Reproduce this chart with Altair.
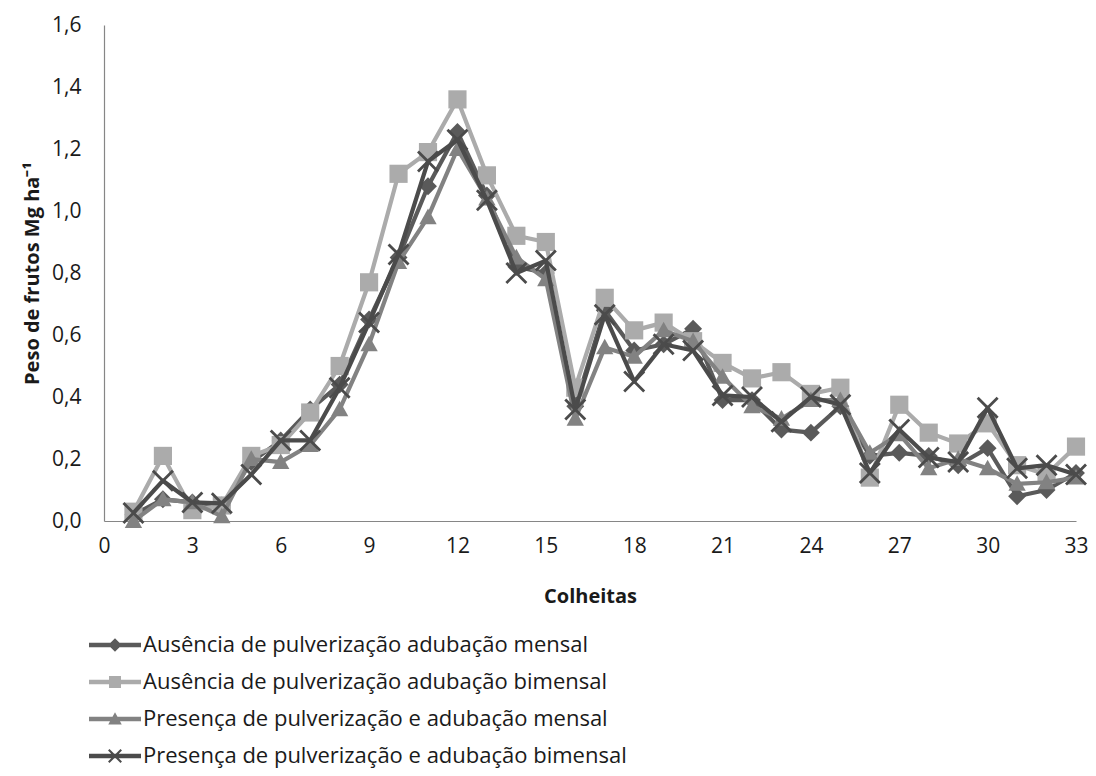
import altair as alt
import pandas as pd

# ---------------- data ----------------
colheitas = list(range(1, 34))

serie_nomes = [
    "Ausência de pulverização adubação mensal",
    "Ausência de pulverização adubação bimensal",
    "Presença de pulverização e adubação mensal",
    "Presença de pulverização e adubação bimensal",
]

s_aus_mensal = [0.02, 0.07, 0.06, 0.05, 0.19, 0.26, 0.36, 0.44, 0.65, 0.85, 1.08, 1.255, 1.05, 0.82, 0.80, 0.37,
                0.68, 0.55, 0.57, 0.62, 0.39, 0.39, 0.295, 0.285, 0.37, 0.21, 0.22, 0.21, 0.18, 0.235, 0.08, 0.10, 0.155]
s_aus_bimensal = [0.03, 0.21, 0.035, 0.05, 0.21, 0.245, 0.35, 0.50, 0.77, 1.12, 1.19, 1.36, 1.115, 0.92, 0.90, 0.43,
                  0.72, 0.615, 0.64, 0.58, 0.51, 0.46, 0.48, 0.41, 0.43, 0.14, 0.375, 0.285, 0.25, 0.315, 0.18, 0.15, 0.24]
s_pres_mensal = [0.0, 0.07, 0.06, 0.015, 0.20, 0.19, 0.245, 0.36, 0.57, 0.835, 0.98, 1.20, 1.04, 0.85, 0.78, 0.33,
                 0.56, 0.53, 0.615, 0.58, 0.465, 0.37, 0.33, 0.39, 0.39, 0.22, 0.28, 0.17, 0.20, 0.17, 0.12, 0.125, 0.14]
s_pres_bimensal = [0.026, 0.13, 0.06, 0.057, 0.15, 0.26, 0.26, 0.43, 0.64, 0.86, 1.16, 1.23, 1.035, 0.80, 0.84, 0.36,
                   0.665, 0.45, 0.57, 0.55, 0.405, 0.40, 0.32, 0.40, 0.375, 0.155, 0.295, 0.205, 0.19, 0.365, 0.17, 0.18, 0.15]

series_values = [s_aus_mensal, s_aus_bimensal, s_pres_mensal, s_pres_bimensal]

x_ticks = list(range(0, 34, 3))
y_ticks = [0.0, 0.2, 0.4, 0.6, 0.8, 1.0, 1.2, 1.4, 1.6]

cores = ["#5a5a5a", "#ababab", "#828282", "#4b4b4b"]

rows = []
for nome, vals in zip(serie_nomes, series_values):
    for c, v in zip(colheitas, vals):
        rows.append({"Colheita": c, "Peso": v, "Serie": nome})
df = pd.DataFrame(rows)


# ---------------- marker glyphs ----------------
def _area(poly):
    s = 0.0
    for i in range(len(poly)):
        x1, y1 = poly[i]
        x2, y2 = poly[(i + 1) % len(poly)]
        s += x1 * y2 - x2 * y1
    return s


def path_from(polys):
    out = []
    for p in polys:
        if _area(p) < 0:
            p = list(reversed(p))
        out.append("M" + "L".join(f"{x:.3f},{y:.3f}" for x, y in p) + "Z")
    return "".join(out)


def diamond(m):
    return [[(0, -m), (m, 0), (0, m), (-m, 0)]]


def square(m):
    return [[(-m, -m), (m, -m), (m, m), (-m, m)]]


def triangle(m):
    return [[(0, -m), (m, 0.8 * m), (-m, 0.8 * m)]]


def xmark(m, w):
    d = w / (2 ** 0.5)
    a = m
    b1 = [(-a + d, -a - d), (a + d, a - d), (a - d, a + d), (-a - d, -a + d)]
    b2 = [(a - d, -a - d), (a + d, -a + d), (-a + d, a + d), (-a - d, a - d)]
    return [b1, b2]


def hline(t):
    return [[(-1, -t), (1, -t), (1, t), (-1, t)]]


marker_paths = [
    path_from(diamond(1)),
    path_from(square(1)),
    path_from(triangle(1)),
    path_from(xmark(1, 0.14)),
]
marker_sizes = [320, 330, 300, 400]

legend_len = 52
lt = 2.2 / (legend_len / 2)
legend_paths = [
    path_from(hline(lt) + diamond(0.26)),
    path_from(hline(lt) + square(0.23)),
    path_from(hline(lt) + triangle(0.26)),
    path_from(hline(lt) + xmark(0.24, 0.04)),
]

FONT = "Open Sans"

x_enc = alt.X("Colheita:Q",
              scale=alt.Scale(domain=[0, 33], nice=False, zero=False),
              axis=alt.Axis(values=x_ticks, title="Colheitas", grid=False, ticks=False, tickSize=0,
                            labelPadding=14, titlePadding=30, format="d", labelFlush=False))
y_enc = alt.Y("Peso:Q",
              scale=alt.Scale(domain=[0, 1.6], nice=False),
              axis=alt.Axis(values=y_ticks, title="Peso de frutos Mg  ha⁻¹", grid=False, ticks=False,
                            tickSize=0, labelPadding=23, titlePadding=9, labelFlush=False,
                            labelExpr="replace(format(datum.value, '.1f'), '.', ',')"))

color_scale = alt.Scale(domain=serie_nomes, range=cores)

layers = []
for i, nome in enumerate(serie_nomes):
    base = alt.Chart(df).transform_filter(alt.datum.Serie == nome)
    line = base.mark_line(strokeWidth=4.2, strokeJoin="round").encode(
        x=x_enc, y=y_enc,
        color=alt.Color("Serie:N", scale=color_scale, legend=None),
    )
    pts = base.mark_point(filled=True, shape=marker_paths[i], size=marker_sizes[i], opacity=1).encode(
        x=x_enc, y=y_enc,
        color=alt.Color("Serie:N", scale=color_scale, legend=None),
    )
    layers += [line, pts]

leg = alt.Legend(
    title=None, orient="none", legendX=-15, legendY=594, direction="vertical",
    labelFont=FONT, labelFontSize=22, labelColor="#1a1a1a", labelLimit=800,
    symbolSize=legend_len ** 2, symbolStrokeWidth=0, symbolOpacity=1,
    rowPadding=-2, labelOffset=2, padding=0,
)

legend_layer = alt.Chart(df).mark_point(filled=True, opacity=0, size=legend_len ** 2).encode(
    x=x_enc, y=y_enc,
    color=alt.Color("Serie:N", scale=alt.Scale(domain=serie_nomes, range=cores), legend=leg, sort=serie_nomes),
    shape=alt.Shape("Serie:N", scale=alt.Scale(domain=serie_nomes, range=legend_paths), legend=leg,
                    sort=serie_nomes),
)
layers.append(legend_layer)

chart = alt.layer(*layers).resolve_scale(color="independent", shape="independent").properties(
    width=972, height=496,
    autosize=alt.AutoSizeParams(type="none"),
    padding={"left": 96, "top": 17, "right": 12, "bottom": 247},
).configure_view(stroke=None).configure_axis(
    domainColor="#868686", domainWidth=1.2,
    labelFont=FONT, labelFontSize=21, labelColor="#1a1a1a",
    titleFont=FONT, titleFontSize=20, titleFontWeight="bold", titleColor="#1a1a1a",
)

chart.save("out.html", embed_options={"renderer": "svg", "actions": False})
